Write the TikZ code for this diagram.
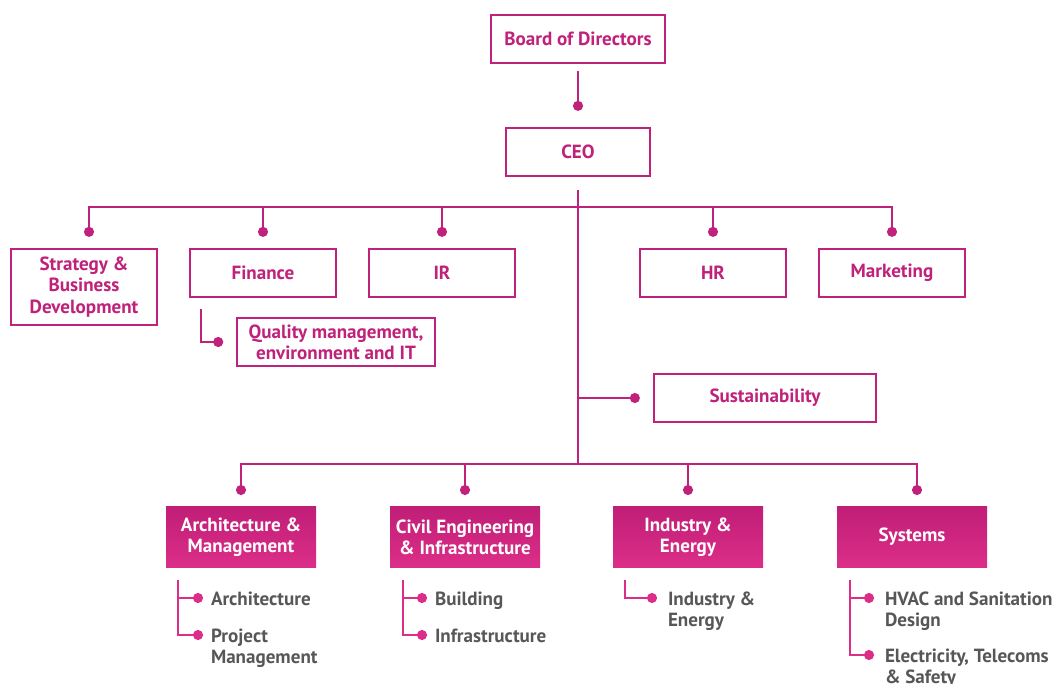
\documentclass[tikz,border=0pt]{standalone}
\usepackage{fontspec}
\setmainfont{PT Sans}
\usepackage{xcolor}
\usetikzlibrary{arrows.meta,calc}

\definecolor{orgmag}{HTML}{C0217B}
\definecolor{orgpink}{HTML}{DC2E88}
\definecolor{orgtop}{HTML}{C01E77}
\definecolor{orggrey}{HTML}{575757}

\begin{document}
\begin{tikzpicture}[x=0.75pt, y=-0.75pt, line width=1.5pt,
  every node/.style={font=\bfseries\fontsize{14.3}{15.9}\selectfont},
  unit/.style={rectangle, draw=orgmag, line width=1.7pt, fill=white, text=orgmag, minimum width=109pt, minimum height=36pt, align=center, inner sep=2pt},
  division/.style={rectangle, top color=orgtop, bottom color=orgpink, text=white, minimum width=112.5pt, minimum height=45pt, align=center, inner sep=2pt},
  subitem/.style={anchor=north west, inner sep=0pt, align=left, text=orggrey},
  link/.style={draw=orgmag, -{Circle[length=7.5pt]}, shorten >=8.25pt},
  sublink/.style={draw=orgpink, -{Circle[length=7.5pt]}}
]
\useasboundingbox (0,0) rectangle (1058,684);

% Top of the chart
\node[unit, minimum width=131pt] (board) at (578,39) {Board of Directors};
\node[unit, minimum width=108pt] (ceo) at (578,152) {CEO};

% Staff units (top row)
\node[unit, minimum height=57pt] (strat) at (84,287) {Strategy \&\\Business\\Development};
\node[unit] (fin) at (263,273) {Finance};
\node[unit] (ir) at (442,273) {IR};
\node[unit] (hr) at (713,273) {HR};
\node[unit] (mkt) at (892,273) {Marketing};

% Units below finance and beside the trunk
\node[unit, minimum width=148pt] (qual) at (336,342) {Quality management,\\environment and IT};
\node[unit, minimum width=166.5pt] (sust) at (765,398) {Sustainability};

% Divisions
\node[division] (arch) at (241,537) {Architecture \&\\Management};
\node[division] (civil) at (465,537) {Civil Engineering\\\& Infrastructure};
\node[division] (ind) at (688,537) {Industry \&\\Energy};
\node[division] (sys) at (912,537) {Systems};

% Departments of the divisions
\node[subitem] (archA) at (210,591) {Architecture};
\node[subitem] (archB) at (210,628) {Project\\Management};
\node[subitem] (civilA) at (434,591) {Building};
\node[subitem] (civilB) at (434,628) {Infrastructure};
\node[subitem] (indA) at (667,591) {Industry \&\\Energy};
\node[subitem] (sysA) at (884,591) {HVAC and Sanitation\\Design};
\node[subitem] (sysB) at (884,648) {Electricity, Telecoms\\\& Safety};

% Trunk and buses
\coordinate (trunk) at ($(ceo.south)+(0,13)$);
\coordinate (busA) at (578,207);
\coordinate (busB) at (578,464);
\draw[orgmag] (trunk) -- (busB);

% Board to CEO
\draw[link, shorten >=12pt, shorten <=5pt] (board) -- (ceo);

% Bus to staff units
\draw[link] (busA) -| ([xshift=3.75pt]strat.north);
\draw[link] (busA) -| (fin.north);
\draw[link] (busA) -| (ir.north);
\draw[link] (busA) -| (hr.north);
\draw[link] (busA) -| (mkt.north);

% Finance to quality, trunk to sustainability
\draw[link, shorten >=9.75pt] ($(fin.south west)+(12,11)$) |- (qual.west);
\draw[link, shorten >=9.75pt] (trunk |- sust.west) -- (sust.west);

% Bus to divisions
\draw[link] (busB) -| (arch.north);
\draw[link] (busB) -| (civil.north);
\draw[link] (busB) -| (ind.north);
\draw[link] (busB) -| ([xshift=3.75pt]sys.north);

% Divisions to departments
\coordinate (archrail) at ($(arch.south west)+(13,12)$);
\coordinate (civilrail) at ($(civil.south west)+(14,12)$);
\coordinate (indrail) at ($(ind.south west)+(13,12)$);
\coordinate (sysrail) at ($(sys.south west)+(14,12)$);
\draw[sublink] (archrail) |- ([shift={(-7,7)}]archA.north west);
\draw[sublink] (archrail) |- ([shift={(-7,7)}]archB.north west);
\draw[sublink] (civilrail) |- ([shift={(-7,7)}]civilA.north west);
\draw[sublink] (civilrail) |- ([shift={(-7,7)}]civilB.north west);
\draw[sublink] (indrail) |- ([shift={(-10,7)}]indA.north west);
\draw[sublink] (sysrail) |- ([shift={(-10,7)}]sysA.north west);
\draw[sublink] (sysrail) |- ([shift={(-10,7)}]sysB.north west);

\end{tikzpicture}
\end{document}
